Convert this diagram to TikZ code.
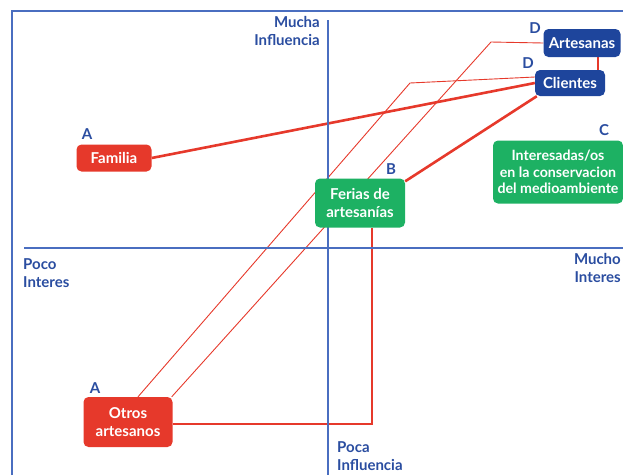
\documentclass[tikz,border=0pt]{standalone}
\usepackage{fontspec}
\setmainfont{Lato}
\usetikzlibrary{backgrounds}
\definecolor{stkred}{HTML}{E6392B}
\definecolor{stkgreen}{HTML}{1DB163}
\definecolor{stkblue}{HTML}{1E459C}
\definecolor{axisblue}{HTML}{4A6EC0}
\definecolor{tagblue}{HTML}{2A4DA0}

\begin{document}
\begin{tikzpicture}[x=1pt,y=-1pt,every node/.style={font=\fontsize{15}{18.5}\selectfont\bfseries,inner sep=0pt,align=center},
  box/.style={rounded corners=5pt,text=white,minimum width=#1},
  redbox/.style={box=#1,fill=stkred},greenbox/.style={box=#1,fill=stkgreen},bluebox/.style={box=#1,fill=stkblue},
  tag/.style={text=tagblue},axislabel/.style={text=tagblue},
  thin link/.style={stkred,line width=0.9pt},thick link/.style={stkred,line width=2.6pt}]
\useasboundingbox (0,0) rectangle (623,475);
\draw[axisblue,line width=1.2pt] (12,475) -- (12,11) -- (623,11);
\draw[axisblue,line width=1.2pt] (328,20) -- (328,475);
\draw[axisblue,line width=1.2pt] (24,248) -- (623,248);

\node[axislabel,align=right,anchor=north east] (mucha) at (320,16) {Mucha\\Influencia};
\node[axislabel,align=left,anchor=north west] (pocoint) at (23,258) {Poco\\Interes};
\node[axislabel,align=right,anchor=north east] (muchoint) at (621,253) {Mucho\\Interes};
\node[axislabel,align=left,anchor=north west] (poca) at (337,441) {Poca\\Influencia};

\node[redbox=75pt,minimum height=27pt] (familia) at (114,158) {Familia};
\node[greenbox=90pt,minimum height=49pt] (ferias) at (360,203) {Ferias de\\artesanías};
\node[redbox=89pt,minimum height=50pt] (otros) at (128,422) {Otros\\artesanos};
\node[bluebox=77pt,minimum height=28pt] (artesanas) at (582,43) {Artesanas};
\node[bluebox=70pt,minimum height=26pt] (clientes) at (570,83) {Clientes};
\node[greenbox=130pt,minimum height=63pt,font=\fontsize{14.2}{16.5}\selectfont\bfseries] (interes) at (558,172) {Interesadas/os\\en la conservacion\\del medioambiente};

\node[tag] (tfamilia) at (87,134) {A};
\node[tag] (totros) at (95,388) {A};
\node[tag] (tferias) at (391,169) {B};
\node[tag] (tinteres) at (604,130) {C};
\node[tag] (tartesanas) at (535,28) {D};
\node[tag] (tclientes) at (528,63) {D};

\coordinate (bendc) at (410,83);
\coordinate (benda) at (491,42);
\begin{scope}[on background layer]
\draw[thin link] ([yshift=6pt]clientes.west) -- (bendc) -- ([xshift=10pt]otros.north);
\draw[thin link] (artesanas.west) -- (benda) -- ([xshift=-1pt]otros.north east);
\draw[thick link] (familia.east) -- (clientes.west);
\draw[thick link] ([yshift=-3pt]ferias.north east) -- ([xshift=2pt]clientes.south west);
\draw[thick link] ([yshift=-2pt]otros.east) -| ([xshift=12pt]ferias.south);
\draw[thick link] ([xshift=16pt]artesanas.south) -- ([xshift=16pt]artesanas.south |- clientes.north);
\end{scope}
\end{tikzpicture}
\end{document}
